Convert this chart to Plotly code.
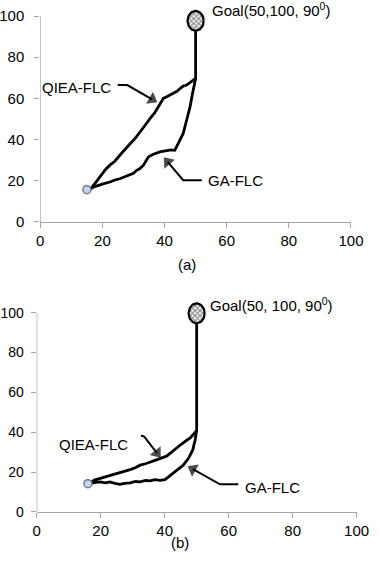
import numpy as np
import plotly.graph_objects as go

# ---------------- data ----------------
# (a)
qiea_a_x = [15, 16, 18, 19.2, 21, 22.4, 24, 25.6, 27, 28.9, 30.5, 32, 33.5, 35.3, 36.8, 38, 39.6, 40.7, 42.8, 44, 45, 46, 47.1, 48.5, 49.2, 50, 50]
qiea_a_y = [15.7, 15.7, 19.5, 21.9, 25.5, 27.6, 29.5, 32.4, 35, 38, 40.5, 43.8, 46.5, 50.2, 53, 56, 60, 60.8, 62.4, 63.5, 64.8, 66, 66.5, 68, 68.9, 69.7, 97]
ga_a_x = [15, 16, 17.5, 19.2, 20.5, 22.4, 24, 25.6, 27.5, 28.9, 30, 31, 32, 33.2, 34, 34.8, 35.6, 36.4, 38.5, 39.5, 40.7, 42, 43.3, 44.4, 45.2, 46, 47.1, 48.2, 49, 49.5, 50]
ga_a_y = [15.7, 16, 17.2, 17.8, 18.6, 19.4, 20.4, 21, 22, 22.7, 23.6, 25.1, 25.8, 27.6, 29.5, 31.6, 32.3, 32.9, 34, 34.3, 34.5, 35, 34.8, 38, 40.5, 43, 49.4, 55.9, 62.4, 66, 69.7]
start_a = (15, 15.7)
goal_a = (50, 97.7)

# (b)
qiea_b_x = [16, 16.7, 18, 19.8, 21.5, 22.9, 24.5, 26, 27.5, 29.2, 30.8, 32.3, 34, 35.4, 37, 38.5, 40.6, 42.7, 44.8, 46.9, 48, 49, 50, 50]
qiea_b_y = [14.4, 14.6, 16, 16.8, 17.9, 18.4, 19.2, 19.6, 20.6, 21.3, 22.2, 23.5, 24.2, 25.1, 25.8, 26.8, 28, 31, 33.5, 36, 37.2, 39, 41, 99]
ga_b_x = [16, 16.7, 18, 19.8, 21.5, 22.9, 24.5, 26, 27.5, 29.2, 30.8, 32.3, 34, 35.4, 37, 38.5, 40.1, 41.7, 43.75, 45.8, 47.4, 48.75, 49.5, 50]
ga_b_y = [14.4, 14.2, 14.8, 15.1, 14.6, 15.1, 14.3, 13.9, 14.4, 14.6, 15.3, 15.1, 15.8, 15.6, 16.2, 15.9, 16.2, 18.4, 20.9, 23.5, 26.8, 31, 36, 41]
start_b = (16, 14.2)
goal_b = (50, 99.7)

tick_vals = [0, 20, 40, 60, 80, 100]
axis_max = 100
y_view_max = 106  # a little headroom so the goal ellipse is not clipped

# ---------------- figure ----------------
fig = go.Figure()

LINE = dict(color="black", width=2.8)
AX = "#a6a6a6"


def ellipse(c, rx, ry, n=60):
    t = np.linspace(0, 2 * np.pi, n)
    return list(c[0] + rx * np.cos(t)), list(c[1] + ry * np.sin(t))


for (qx, qy, gx, gy, st, gl, xa, ya, rx, ry) in [
    (qiea_a_x, qiea_a_y, ga_a_x, ga_a_y, start_a, goal_a, "x", "y", 2.6, 4.8),
    (qiea_b_x, qiea_b_y, ga_b_x, ga_b_y, start_b, goal_b, "x2", "y2", 2.5, 5.0),
]:
    fig.add_trace(go.Scatter(x=qx, y=qy, mode="lines", line=LINE, xaxis=xa, yaxis=ya, showlegend=False))
    fig.add_trace(go.Scatter(x=gx, y=gy, mode="lines", line=LINE, xaxis=xa, yaxis=ya, showlegend=False))
    ex, ey = ellipse(gl, rx, ry)
    fig.add_trace(go.Scatter(x=ex, y=ey, mode="lines", fill="toself",
                             fillcolor="white",
                             fillpattern=dict(shape="x", fgcolor="black", bgcolor="white", size=3.5, solidity=0.55),
                             line=dict(color="black", width=2.2), xaxis=xa, yaxis=ya, showlegend=False))
    fig.add_trace(go.Scatter(x=[st[0]], y=[st[1]], mode="markers",
                             marker=dict(size=8, color="#c5d5ea", line=dict(color="#6f7f90", width=1.5)),
                             xaxis=xa, yaxis=ya, showlegend=False))
    # y axis line drawn only from 0 to 100
    fig.add_shape(type="line", xref=xa, yref=ya, x0=0, x1=0, y0=0, y1=axis_max,
                  line=dict(color=AX, width=1.3), layer="below")

axis_common = dict(tickvals=tick_vals, showgrid=False, zeroline=False, automargin=False,
                   ticks="outside", ticklen=5, tickcolor=AX, tickwidth=1.3,
                   fixedrange=True)
F15 = dict(family="Liberation Sans, Arial", size=15, color="black")
F14 = dict(family="Liberation Sans, Arial", size=14, color="black")

fig.update_layout(
    width=379, height=562,
    margin=dict(l=0, r=0, t=0, b=0),
    paper_bgcolor="white", plot_bgcolor="white",
    xaxis=dict(domain=[0.1063, 0.926], anchor="y", range=[0, axis_max], showline=True,
               linecolor=AX, linewidth=1.3, tickfont=F15, **axis_common),
    yaxis=dict(domain=[0.605, 0.9934], anchor="x", range=[0, y_view_max], showline=False,
               ticklabelstandoff=7, tickfont=F15, **axis_common),
    xaxis2=dict(domain=[0.0968, 0.941], anchor="y2", range=[0, axis_max], showline=True,
                linecolor=AX, linewidth=1.3, tickfont=F15, **axis_common),
    yaxis2=dict(domain=[0.089, 0.4648], anchor="x2", range=[0, y_view_max], showline=False,
                ticklabelstandoff=4, tickfont=F14, **axis_common),
    font=dict(family="Liberation Sans, Arial", color="black"),
)

LBL = F15

# labels with bent leader arrows
leaders = [
    # (xaxis, yaxis, label, label_x, label_y, h_start, bend, head)
    ("x", "y", "QIEA-FLC", 11.6, 65.5, (24.9, 66.5), (28.0, 66.5), (36.0, 59.6)),
    ("x", "y", "GA-FLC", 62.8, 20.3, (52.0, 20.3), (46.0, 20.3), (41.0, 29.2)),
    ("x2", "y2", "QIEA-FLC", 17.8, 34.0, (32.6, 38.4), (33.6, 37.8), (37.6, 29.6)),
    ("x2", "y2", "GA-FLC", 73.7, 12.4, (63.0, 13.9), (57.3, 13.9), (48.8, 21.5)),
]
for xr, yr, txt, lx, ly, hs, hb, hd in leaders:
    fig.add_annotation(x=lx, y=ly, xref=xr, yref=yr, text=txt, showarrow=False, font=LBL)
    fig.add_trace(go.Scatter(
        x=[hs[0], hb[0], hd[0]], y=[hs[1], hb[1], hd[1]], mode="lines+markers",
        line=dict(color="black", width=2),
        marker=dict(symbol="triangle-up", size=[0, 0, 12], angleref="previous", color="black",
                    line=dict(width=0)),
        cliponaxis=False, xaxis=xr, yaxis=yr, showlegend=False))

fig.add_annotation(x=54.5, y=103.3, xref="x", yref="y", xanchor="left", text="Goal(50,100, 90<sup>0</sup>)",
                   showarrow=False, font=LBL)
fig.add_annotation(x=53.5, y=104.3, xref="x2", yref="y2", xanchor="left", text="Goal(50, 100, 90<sup>0</sup>)",
                   showarrow=False, font=LBL)

fig.add_annotation(x=187 / 379, y=1 - 264 / 562, xref="paper", yref="paper", text="(a)", showarrow=False, font=LBL)
fig.add_annotation(x=180 / 379, y=1 - 553 / 562, xref="paper", yref="paper", text="(b)", showarrow=False, font=LBL)

fig.write_html("out.html")
